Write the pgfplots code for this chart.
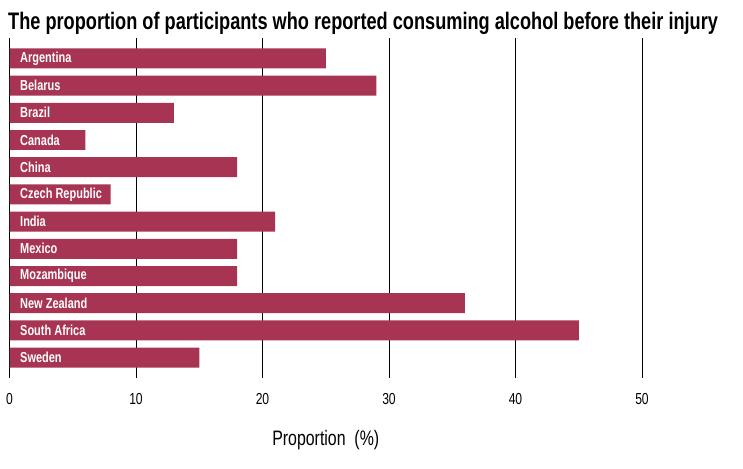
\documentclass[border=0pt]{standalone}
\usepackage{pgfplots}
\pgfplotsset{compat=1.18}
\usepackage{fontspec}
\setmainfont{Liberation Sans}[FakeStretch=0.76]
\definecolor{barred}{RGB}{166,52,82}
\begin{document}
\begin{tikzpicture}
\useasboundingbox (-9.5bp,-91bp) rectangle (733.5bp,378bp);
\begin{axis}[
  scale only axis,
  width=632.5bp, height=340bp,
  xmin=0, xmax=50,
  ymin=-0.75, ymax=11.75,
  y dir=reverse,
  axis line style={draw=none},
  xmajorgrids, grid style={black, line width=0.8pt},
  major tick length=0pt,
  xtick={0,10,20,30,40,50},
  ytick=\empty,
  xticklabel style={font=\fontsize{16}{18}\selectfont, yshift=-12bp},
  /pgf/number format/assume math mode=true,
  xlabel={Proportion\ \ (\%)},
  xlabel style={font=\fontsize{21}{24}\selectfont, yshift=-19bp},
  clip=false,
]
\addplot[xbar, bar width=0.735, fill=barred, draw=none] coordinates {
(25,0) (29,1) (13,2) (6,3) (18,4) (8,5) (21,6) (18,7) (18,8) (36,9) (45,10) (15,11)
};
\addplot[draw=none, mark=none, nodes near coords, point meta=explicit symbolic,
  nodes near coords style={anchor=west, inner sep=0pt, xshift=10.5bp, text=white, font=\bfseries\fontsize{14.5}{16}\selectfont}]
  table[meta=label, col sep=comma] {
x,y,label
0,0,Argentina
0,1,Belarus
0,2,Brazil
0,3,Canada
0,4,China
0,5,Czech Republic
0,6,India
0,7,Mexico
0,8,Mozambique
0,9,New Zealand
0,10,South Africa
0,11,Sweden
};
\end{axis}
\node[anchor=base west, inner sep=0pt, font=\bfseries\fontsize{24}{28}\selectfont] at (-1.5bp,348.7bp)
  {The proportion of participants who reported consuming alcohol before their injury};
\end{tikzpicture}
\end{document}
